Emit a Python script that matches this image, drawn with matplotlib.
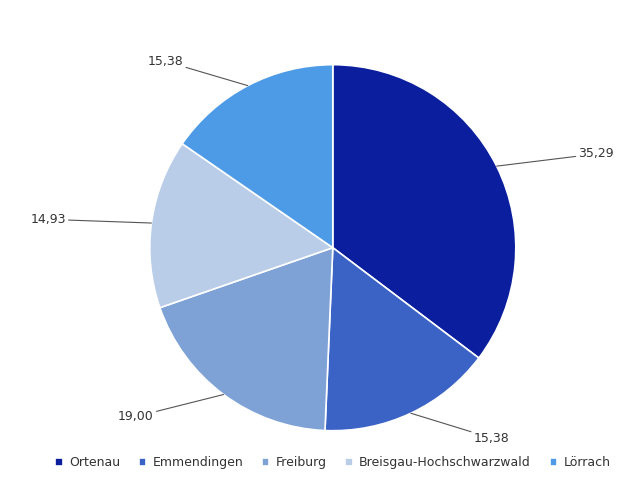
import numpy as np
import matplotlib
matplotlib.use("Agg")
import matplotlib.pyplot as plt

regions = ["Ortenau", "Emmendingen", "Freiburg", "Breisgau-Hochschwarzwald", "Lörrach"]
values = [35.29, 15.38, 19.00, 14.93, 15.38]
labels = ["35,29", "15,38", "19,00", "14,93", "15,38"]
colors = ["#0b1f9e", "#3b63c6", "#7ea2d6", "#b9cde9", "#4d9be6"]

fig = plt.figure(figsize=(6.4, 4.9), dpi=100)
ax = fig.add_axes([0.234, 0.121, 0.572, 0.747])
wedges, _ = ax.pie(values, colors=colors, startangle=90, counterclock=False,
                   wedgeprops=dict(edgecolor="white", linewidth=1.2))
ax.set_aspect("equal")
ax.set_xlim(-1, 1); ax.set_ylim(-1, 1)

for w, lab in zip(wedges, labels):
    ang = np.deg2rad((w.theta1 + w.theta2) / 2)
    x, y = np.cos(ang), np.sin(ang)
    tx, ty = 1.22 * x + 0.25 * np.sign(x), 1.15 * y
    ax.annotate(lab, xy=(x, y), xytext=(tx, ty), fontsize=9, color="#333333",
                ha="left" if x > 0 else "right", va="center",
                arrowprops=dict(arrowstyle="-", color="#555555", lw=0.8,
                                shrinkA=0, shrinkB=0))

fig.legend(wedges, regions, loc="lower center", ncol=5, frameon=False,
           bbox_to_anchor=(0.52, 0.02), fontsize=9, handlelength=0.6,
           handleheight=0.6, columnspacing=1.5, handletextpad=0.5,
           labelcolor="#333333")
fig.savefig("out.png", dpi=100)
